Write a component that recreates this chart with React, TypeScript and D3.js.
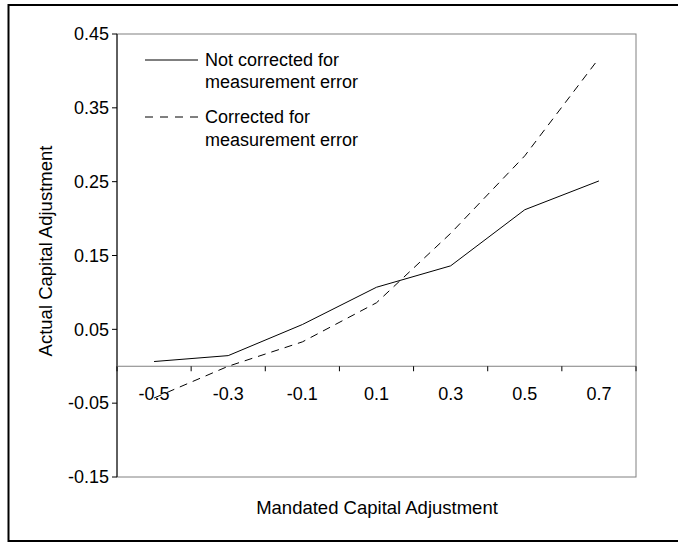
import React from "react";
import * as d3 from "d3";

const categories = ["-0.5", "-0.3", "-0.1", "0.1", "0.3", "0.5", "0.7"];
const notCorrected = [0.0064, 0.0144, 0.0565, 0.107, 0.136, 0.212, 0.251];
const corrected = [-0.043, 0.0, 0.033, 0.086, 0.18, 0.285, 0.417];
const yTicks = [0.45, 0.35, 0.25, 0.15, 0.05, -0.05, -0.15];

const W = 678, H = 545;
const left = 117, right = 636, top = 34, bottom = 477;
const font = "Liberation Sans, Arial, sans-serif";

export default function App() {
  const y = d3.scaleLinear().domain([-0.15, 0.45]).range([bottom, top]);
  const x = d3.scaleBand().domain(categories).range([left, right]);
  const cx = (c: string) => (x(c) as number) + x.bandwidth() / 2;
  const line = d3.line<[string, number]>().x(d => cx(d[0])).y(d => y(d[1]));
  const s1 = line(categories.map((c, i) => [c, notCorrected[i]]));
  const s2 = line(categories.map((c, i) => [c, corrected[i]]));
  const y0 = y(0);
  const edges = categories.map(c => x(c) as number).concat([right]);
  return (
    <svg width={W} height={H} style={{ position: "absolute", left: 0, top: 0 }}>
      <rect x={8.5} y={5} width={700} height={536} fill="white" stroke="#000" strokeWidth={2} />
      <rect x={left} y={top} width={right - left} height={bottom - top} fill="none" stroke="#808080" strokeWidth={1} />
      <line x1={left} x2={left} y1={top} y2={bottom} stroke="#000" />
      {yTicks.map(t => (
        <g key={t}>
          <line x1={left - 5} x2={left} y1={y(t)} y2={y(t)} stroke="#000" />
          <text x={left - 8} y={y(t)} dy="0.35em" textAnchor="end" fontFamily={font} fontSize={18}>{t.toFixed(2)}</text>
        </g>
      ))}
      <line x1={left} x2={right} y1={y0} y2={y0} stroke="#808080" />
      {edges.map((e, i) => (
        <line key={i} x1={e} x2={e} y1={y0} y2={y0 + 5} stroke="#000" />
      ))}
      {categories.map(c => (
        <text key={c} x={cx(c)} y={y0 + 27} dy="0.35em" textAnchor="middle" fontFamily={font} fontSize={18}>{c}</text>
      ))}
      <path d={s1 || ""} fill="none" stroke="#000" strokeWidth={1} />
      <path d={s2 || ""} fill="none" stroke="#000" strokeWidth={1} strokeDasharray="8,6" />
      <line x1={145} x2={198} y1={60} y2={60} stroke="#000" />
      <text x={205} y={60} dy="0.35em" fontFamily={font} fontSize={18}>Not corrected for</text>
      <text x={205} y={82} dy="0.35em" fontFamily={font} fontSize={18}>measurement error</text>
      <line x1={145} x2={198} y1={117} y2={117} stroke="#000" strokeDasharray="8,7" />
      <text x={205} y={117} dy="0.35em" fontFamily={font} fontSize={18}>Corrected for</text>
      <text x={205} y={140} dy="0.35em" fontFamily={font} fontSize={18}>measurement error</text>
      <text transform={`translate(52,251) rotate(-90)`} textAnchor="middle" fontFamily={font} fontSize={18.5}>Actual Capital Adjustment</text>
      <text x={377} y={514} textAnchor="middle" fontFamily={font} fontSize={18.5}>Mandated Capital Adjustment</text>
    </svg>
  );
}
